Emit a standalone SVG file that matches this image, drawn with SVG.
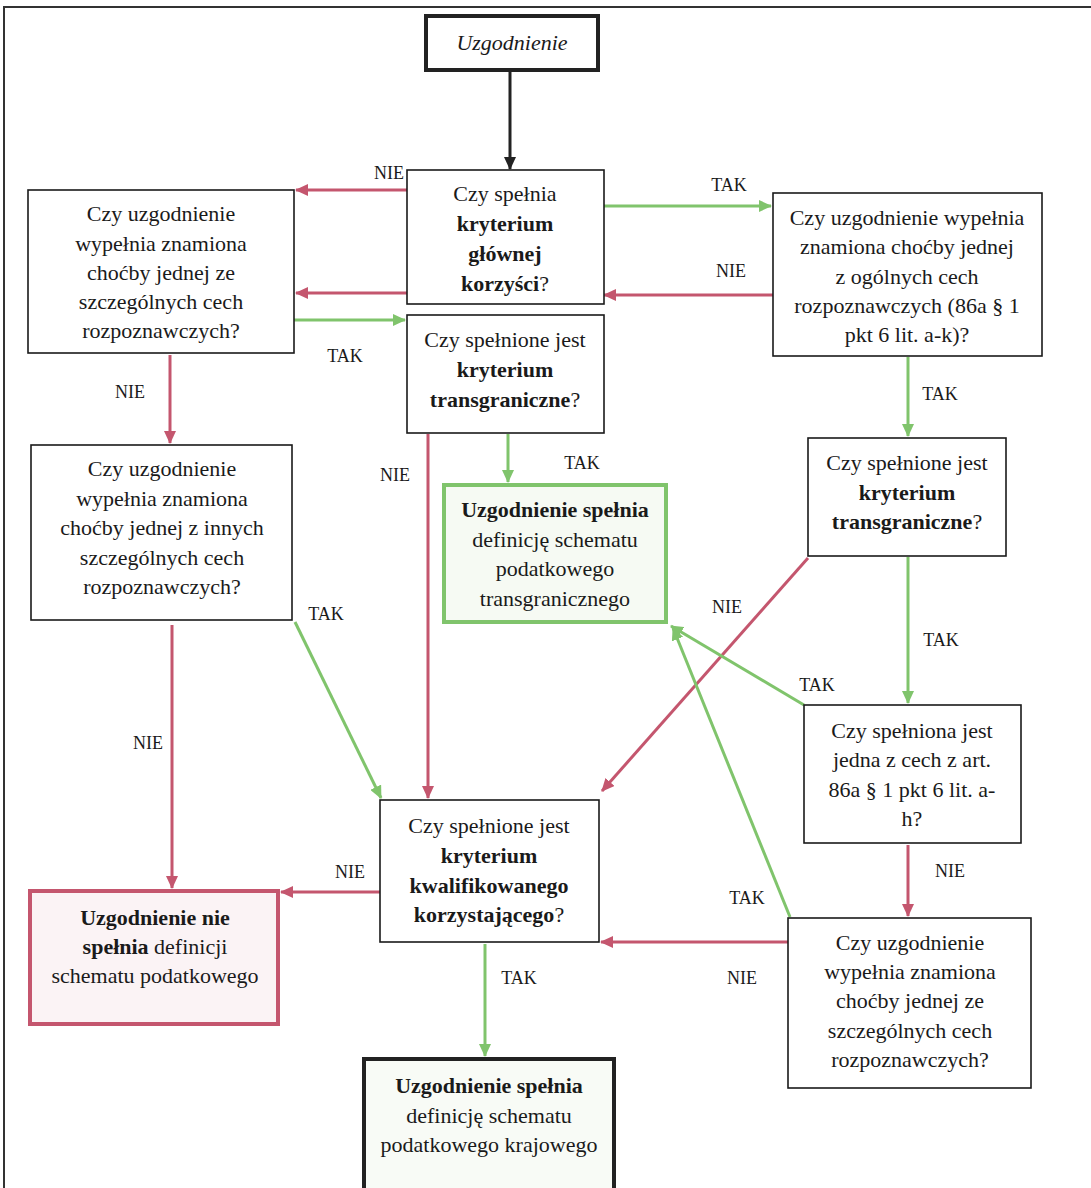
<svg xmlns="http://www.w3.org/2000/svg" width="1091" height="1188" viewBox="0 0 1091 1188">
<style>
text{font-family:"Liberation Serif","Times New Roman",serif;font-size:22px;fill:#1a1a1a;text-anchor:middle}
.b{font-weight:bold}
.i{font-style:italic}
.lbl{font-size:18px}
.box{fill:#fff;stroke:#1a1a1a;stroke-width:1.6}
.red{stroke:#c4566e;stroke-width:3;fill:none;marker-end:url(#ar)}
.grn{stroke:#80c46c;stroke-width:3;fill:none;marker-end:url(#ag)}
.blk{stroke:#222;stroke-width:3;fill:none;marker-end:url(#ab)}
</style>
<defs>
<marker id="ar" markerUnits="userSpaceOnUse" markerWidth="14" markerHeight="12" refX="12" refY="6" orient="auto"><path d="M0,0 L13,6 L0,12 Z" fill="#c4566e"/></marker>
<marker id="ag" markerUnits="userSpaceOnUse" markerWidth="14" markerHeight="12" refX="12" refY="6" orient="auto"><path d="M0,0 L13,6 L0,12 Z" fill="#80c46c"/></marker>
<marker id="ab" markerUnits="userSpaceOnUse" markerWidth="14" markerHeight="12" refX="12" refY="6" orient="auto"><path d="M0,0 L13,6 L0,12 Z" fill="#222"/></marker>
</defs>
<rect width="1091" height="1188" fill="#fff"/>
<path d="M4,1188 V7 H1091" fill="none" stroke="#333" stroke-width="2"/>

<g id="connectors">
<line class="blk" x1="510" y1="72" x2="510" y2="169"/>
<line class="red" x1="407" y1="190" x2="296" y2="190"/>
<line class="red" x1="773" y1="295" x2="604" y2="295"/>
<line class="red" x1="407" y1="293" x2="296" y2="293"/>
<line class="grn" x1="604" y1="206" x2="771" y2="206"/>
<line class="grn" x1="294" y1="320" x2="405" y2="320"/>
<line class="red" x1="170" y1="355" x2="170" y2="443"/>
<line class="red" x1="428" y1="434" x2="428" y2="798"/>
<line class="grn" x1="508" y1="434" x2="508" y2="482"/>
<line class="grn" x1="908" y1="357" x2="908" y2="436"/>
<line class="red" x1="808" y1="558" x2="602" y2="791"/>
<line class="grn" x1="908" y1="557" x2="908" y2="703"/>
<line class="grn" x1="804" y1="705" x2="671" y2="626"/>
<line class="red" x1="908" y1="845" x2="908" y2="916"/>
<line class="grn" x1="790" y1="917" x2="673" y2="628"/>
<line class="red" x1="788" y1="942" x2="601" y2="942"/>
<line class="red" x1="380" y1="892" x2="281" y2="892"/>
<line class="red" x1="172" y1="625" x2="172" y2="888"/>
<line class="grn" x1="295" y1="622" x2="381" y2="798"/>
<line class="grn" x1="485" y1="944" x2="485" y2="1056"/>
<g class="lbl-group">
<text class="lbl" x="389" y="179">NIE</text>
<text class="lbl" x="729" y="191">TAK</text>
<text class="lbl" x="731" y="277">NIE</text>
<text class="lbl" x="345" y="362">TAK</text>
<text class="lbl" x="130" y="398">NIE</text>
<text class="lbl" x="395" y="481">NIE</text>
<text class="lbl" x="582" y="469">TAK</text>
<text class="lbl" x="940" y="400">TAK</text>
<text class="lbl" x="727" y="613">NIE</text>
<text class="lbl" x="941" y="646">TAK</text>
<text class="lbl" x="817" y="691">TAK</text>
<text class="lbl" x="326" y="620">TAK</text>
<text class="lbl" x="148" y="749">NIE</text>
<text class="lbl" x="950" y="877">NIE</text>
<text class="lbl" x="350" y="878">NIE</text>
<text class="lbl" x="747" y="904">TAK</text>
<text class="lbl" x="742" y="984">NIE</text>
<text class="lbl" x="519" y="984">TAK</text>
</g>
</g>

<g id="start">
<rect x="426" y="16" width="172" height="54" fill="#fff" stroke="#222" stroke-width="4"/>
<text class="i" x="512" y="50">Uzgodnienie</text>
</g>

<g id="n-glowna">
<rect class="box" x="407" y="170" width="197" height="134"/>
<text x="505" y="201">Czy spełnia</text>
<text class="b" x="505" y="231">kryterium</text>
<text class="b" x="505" y="261">głównej</text>
<text x="505" y="291"><tspan class="b">korzyści</tspan>?</text>
</g>

<g id="n-szczegolne1">
<rect class="box" x="28" y="190" width="266" height="163"/>
<text x="161" y="221">Czy uzgodnienie</text>
<text x="161" y="251">wypełnia znamiona</text>
<text x="161" y="280">choćby jednej ze</text>
<text x="161" y="309">szczególnych cech</text>
<text x="161" y="338">rozpoznawczych?</text>
</g>

<g id="n-transgr1">
<rect class="box" x="407" y="315" width="197" height="118"/>
<text x="505" y="347">Czy spełnione jest</text>
<text class="b" x="505" y="377">kryterium</text>
<text x="505" y="407"><tspan class="b">transgraniczne</tspan>?</text>
</g>

<g id="n-ogolne">
<rect class="box" x="773" y="193" width="269" height="163"/>
<text x="907" y="225">Czy uzgodnienie wypełnia</text>
<text x="907" y="254">znamiona choćby jednej</text>
<text x="907" y="284">z ogólnych cech</text>
<text x="907" y="313">rozpoznawczych (86a § 1</text>
<text x="907" y="342">pkt 6 lit. a-k)?</text>
</g>

<g id="n-inne">
<rect class="box" x="31" y="445" width="261" height="175"/>
<text x="162" y="476">Czy uzgodnienie</text>
<text x="162" y="506">wypełnia znamiona</text>
<text x="162" y="535">choćby jednej z innych</text>
<text x="162" y="565">szczególnych cech</text>
<text x="162" y="594">rozpoznawczych?</text>
</g>

<g id="n-transgraniczny">
<rect x="444" y="485" width="222" height="137" fill="#f6faf3" stroke="#80c46c" stroke-width="4"/>
<text class="b" x="555" y="517">Uzgodnienie spełnia</text>
<text x="555" y="547">definicję schematu</text>
<text x="555" y="576">podatkowego</text>
<text x="555" y="606">transgranicznego</text>
</g>

<g id="n-transgr2">
<rect class="box" x="808" y="438" width="198" height="118"/>
<text x="907" y="470">Czy spełnione jest</text>
<text class="b" x="907" y="500">kryterium</text>
<text x="907" y="529"><tspan class="b">transgraniczne</tspan>?</text>
</g>

<g id="n-ah">
<rect class="box" x="804" y="705" width="217" height="138"/>
<text x="912" y="738">Czy spełniona jest</text>
<text x="912" y="767">jedna z cech z art.</text>
<text x="912" y="797">86a § 1 pkt 6 lit. a-</text>
<text x="912" y="826">h?</text>
</g>

<g id="n-kwalifikowany">
<rect class="box" x="380" y="800" width="219" height="142"/>
<text x="489" y="833">Czy spełnione jest</text>
<text class="b" x="489" y="863">kryterium</text>
<text class="b" x="489" y="893">kwalifikowanego</text>
<text x="489" y="922"><tspan class="b">korzystającego</tspan>?</text>
</g>

<g id="n-nie-spelnia">
<rect x="30" y="891" width="248" height="133" fill="#fbf3f5" stroke="#c4566e" stroke-width="4"/>
<text class="b" x="155" y="925">Uzgodnienie nie</text>
<text x="155" y="954"><tspan class="b">spełnia</tspan> definicji</text>
<text x="155" y="983">schematu podatkowego</text>
</g>

<g id="n-szczegolne2">
<rect class="box" x="788" y="918" width="243" height="170"/>
<text x="910" y="950">Czy uzgodnienie</text>
<text x="910" y="979">wypełnia znamiona</text>
<text x="910" y="1008">choćby jednej ze</text>
<text x="910" y="1038">szczególnych cech</text>
<text x="910" y="1067">rozpoznawczych?</text>
</g>

<g id="n-krajowy">
<rect x="364" y="1059" width="250" height="140" fill="#f8fbf6" stroke="#222" stroke-width="4"/>
<text class="b" x="489" y="1093">Uzgodnienie spełnia</text>
<text x="489" y="1123">definicję schematu</text>
<text x="489" y="1152">podatkowego krajowego</text>
</g>
</svg>
